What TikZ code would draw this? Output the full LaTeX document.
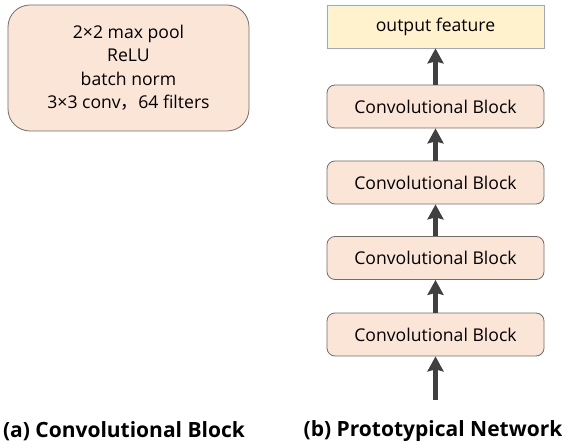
\documentclass[tikz,border=0pt]{standalone}
\usepackage{fontspec}
\setmainfont{Open Sans}
\newfontfamily\cjk{Noto Sans CJK SC}
\usepackage{tikz}
\usetikzlibrary{arrows.meta,positioning,calc}

\definecolor{blockfill}{RGB}{251,229,214}
\definecolor{blockline}{RGB}{110,110,110}
\definecolor{outfill}{RGB}{255,242,204}
\definecolor{outline}{RGB}{143,170,220}
\definecolor{arrowcol}{RGB}{64,64,64}

\tikzset{
  convblock/.style={draw=blockline,fill=blockfill,line width=0.8bp,rounded corners=8bp,
    minimum width=217bp,minimum height=43bp,inner sep=0pt,font=\fontsize{17.6bp}{20bp}\selectfont},
  outbox/.style={draw=outline,fill=outfill,line width=0.8bp,
    minimum width=217bp,minimum height=43bp,inner sep=0pt,font=\fontsize{17.6bp}{20bp}\selectfont},
  flowarrow/.style={draw=arrowcol,line width=5bp,-{Stealth[width=16bp,length=15bp,inset=2bp]}},
  caption/.style={font=\bfseries\fontsize{21bp}{24bp}\selectfont}
}

\begin{document}
\begin{tikzpicture}[x=1bp,y=-1bp]
\useasboundingbox (0,0) rectangle (565,443);
% (a) inside of one block
\node[convblock,rounded corners=22bp,minimum width=241bp,minimum height=126bp,align=center,
  font=\fontsize{17.6bp}{23.5bp}\selectfont] (blockdesc) at (128.5,68)
  {2×2 max pool\\ReLU\\batch norm\\3×3 conv{\cjk ，}64 filters};
% (b) stack of blocks
\node[outbox] (outfeat) at (435.5,26.5) {output feature};
\node[convblock] (conv1) at (435.5,106.5) {Convolutional Block};
\node[convblock] (conv2) at (435.5,182.5) {Convolutional Block};
\node[convblock] (conv3) at (435.5,258) {Convolutional Block};
\node[convblock] (conv4) at (435.5,334.5) {Convolutional Block};
\coordinate (input) at (435.5,400);
\draw[flowarrow] (input) -- (conv4);
\draw[flowarrow] (conv4) -- (conv3);
\draw[flowarrow] (conv3) -- (conv2);
\draw[flowarrow] (conv2) -- (conv1);
\draw[flowarrow] (conv1) -- (outfeat);
% captions
\node[caption] (capa) at (124,431) {(a) Convolutional Block};
\node[caption] (capb) at (433,431) {(b) Prototypical Network};
\end{tikzpicture}
\end{document}
